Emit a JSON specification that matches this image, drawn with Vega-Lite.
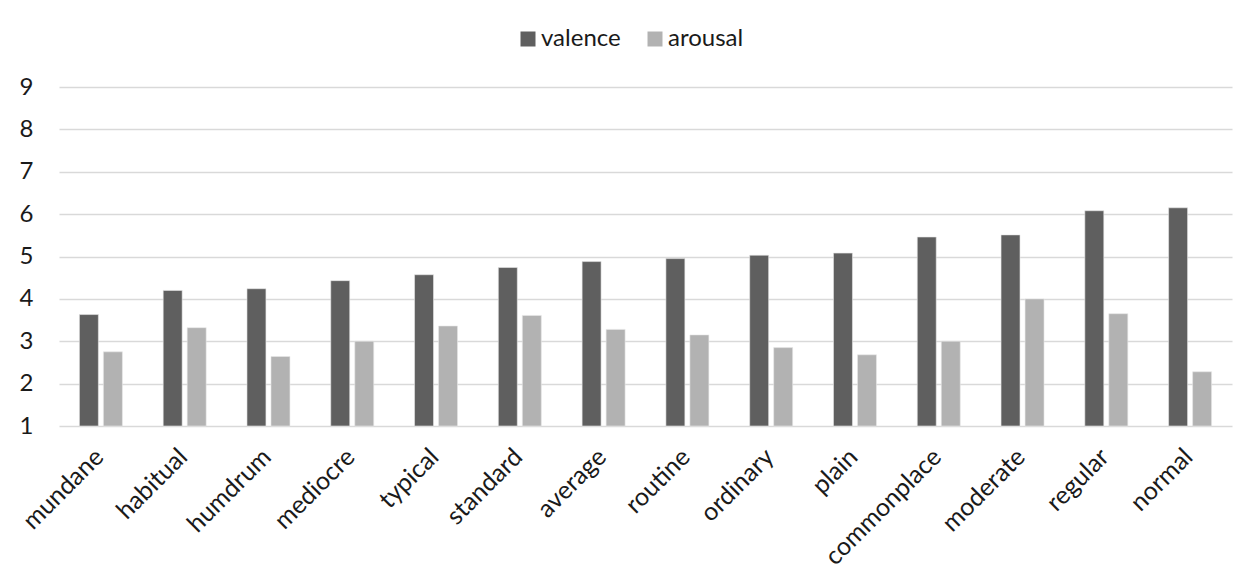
{
  "$schema": "https://vega.github.io/schema/vega-lite/v6.json",
  "autosize": {"type": "none"},
  "width": 1173,
  "height": 339,
  "padding": {"left": 59, "top": 87, "right": 19, "bottom": 159},
  "background": "white",
  "data": {
    "values": [
      {"word": "mundane", "measure": "valence", "value": 3.63},
      {"word": "mundane", "measure": "arousal", "value": 2.75},
      {"word": "habitual", "measure": "valence", "value": 4.2},
      {"word": "habitual", "measure": "arousal", "value": 3.32},
      {"word": "humdrum", "measure": "valence", "value": 4.24},
      {"word": "humdrum", "measure": "arousal", "value": 2.64},
      {"word": "mediocre", "measure": "valence", "value": 4.43},
      {"word": "mediocre", "measure": "arousal", "value": 3.0},
      {"word": "typical", "measure": "valence", "value": 4.57},
      {"word": "typical", "measure": "arousal", "value": 3.36},
      {"word": "standard", "measure": "valence", "value": 4.74},
      {"word": "standard", "measure": "arousal", "value": 3.61},
      {"word": "average", "measure": "valence", "value": 4.88},
      {"word": "average", "measure": "arousal", "value": 3.28},
      {"word": "routine", "measure": "valence", "value": 4.95},
      {"word": "routine", "measure": "arousal", "value": 3.15},
      {"word": "ordinary", "measure": "valence", "value": 5.03},
      {"word": "ordinary", "measure": "arousal", "value": 2.85},
      {"word": "plain", "measure": "valence", "value": 5.08},
      {"word": "plain", "measure": "arousal", "value": 2.68},
      {"word": "commonplace", "measure": "valence", "value": 5.46},
      {"word": "commonplace", "measure": "arousal", "value": 3.0},
      {"word": "moderate", "measure": "valence", "value": 5.51},
      {"word": "moderate", "measure": "arousal", "value": 4.0},
      {"word": "regular", "measure": "valence", "value": 6.08},
      {"word": "regular", "measure": "arousal", "value": 3.65},
      {"word": "normal", "measure": "valence", "value": 6.15},
      {"word": "normal", "measure": "arousal", "value": 2.28}
    ]
  },
  "mark": {"type": "bar", "stroke": "#e8e8e8", "strokeWidth": 0.6},
  "encoding": {
    "x": {
      "field": "word",
      "type": "nominal",
      "sort": null,
      "scale": {"paddingInner": 0.487, "paddingOuter": 0.2435},
      "axis": {
        "title": null,
        "labelAngle": -45,
        "labelAlign": "right",
        "labelBaseline": "top",
        "labelFont": "Lato",
        "labelFontSize": 25,
        "labelColor": "#1a1a1a",
        "labelPadding": 18,
        "labelOffset": -10,
        "ticks": false,
        "domain": false,
        "grid": false
      }
    },
    "xOffset": {
      "field": "measure",
      "type": "nominal",
      "sort": ["valence", "arousal"],
      "scale": {"paddingInner": 0.21, "paddingOuter": 0}
    },
    "y": {
      "field": "value",
      "type": "quantitative",
      "scale": {"domain": [1, 9], "nice": false, "zero": false},
      "axis": {
        "title": null,
        "values": [1, 2, 3, 4, 5, 6, 7, 8, 9],
        "labelFont": "Lato",
        "labelFontSize": 24,
        "labelColor": "#1a1a1a",
        "labelPadding": 26,
        "ticks": false,
        "domain": false,
        "grid": true,
        "gridColor": "#d9d9d9",
        "gridWidth": 1.5
      }
    },
    "y2": {"datum": 1},
    "color": {
      "field": "measure",
      "type": "nominal",
      "sort": ["valence", "arousal"],
      "scale": {"domain": ["valence", "arousal"], "range": ["#5f5f5f", "#b2b2b2"]},
      "legend": {
        "title": null,
        "orient": "none",
        "legendX": 457,
        "legendY": -60,
        "direction": "horizontal",
        "symbolType": "square",
        "symbolSize": 225,
        "symbolStrokeWidth": 0,
        "labelFont": "Lato",
        "labelFontSize": 24,
        "labelColor": "#1a1a1a",
        "columnPadding": 22,
        "labelOffset": 1
      }
    }
  },
  "config": {"view": {"stroke": null}}
}
